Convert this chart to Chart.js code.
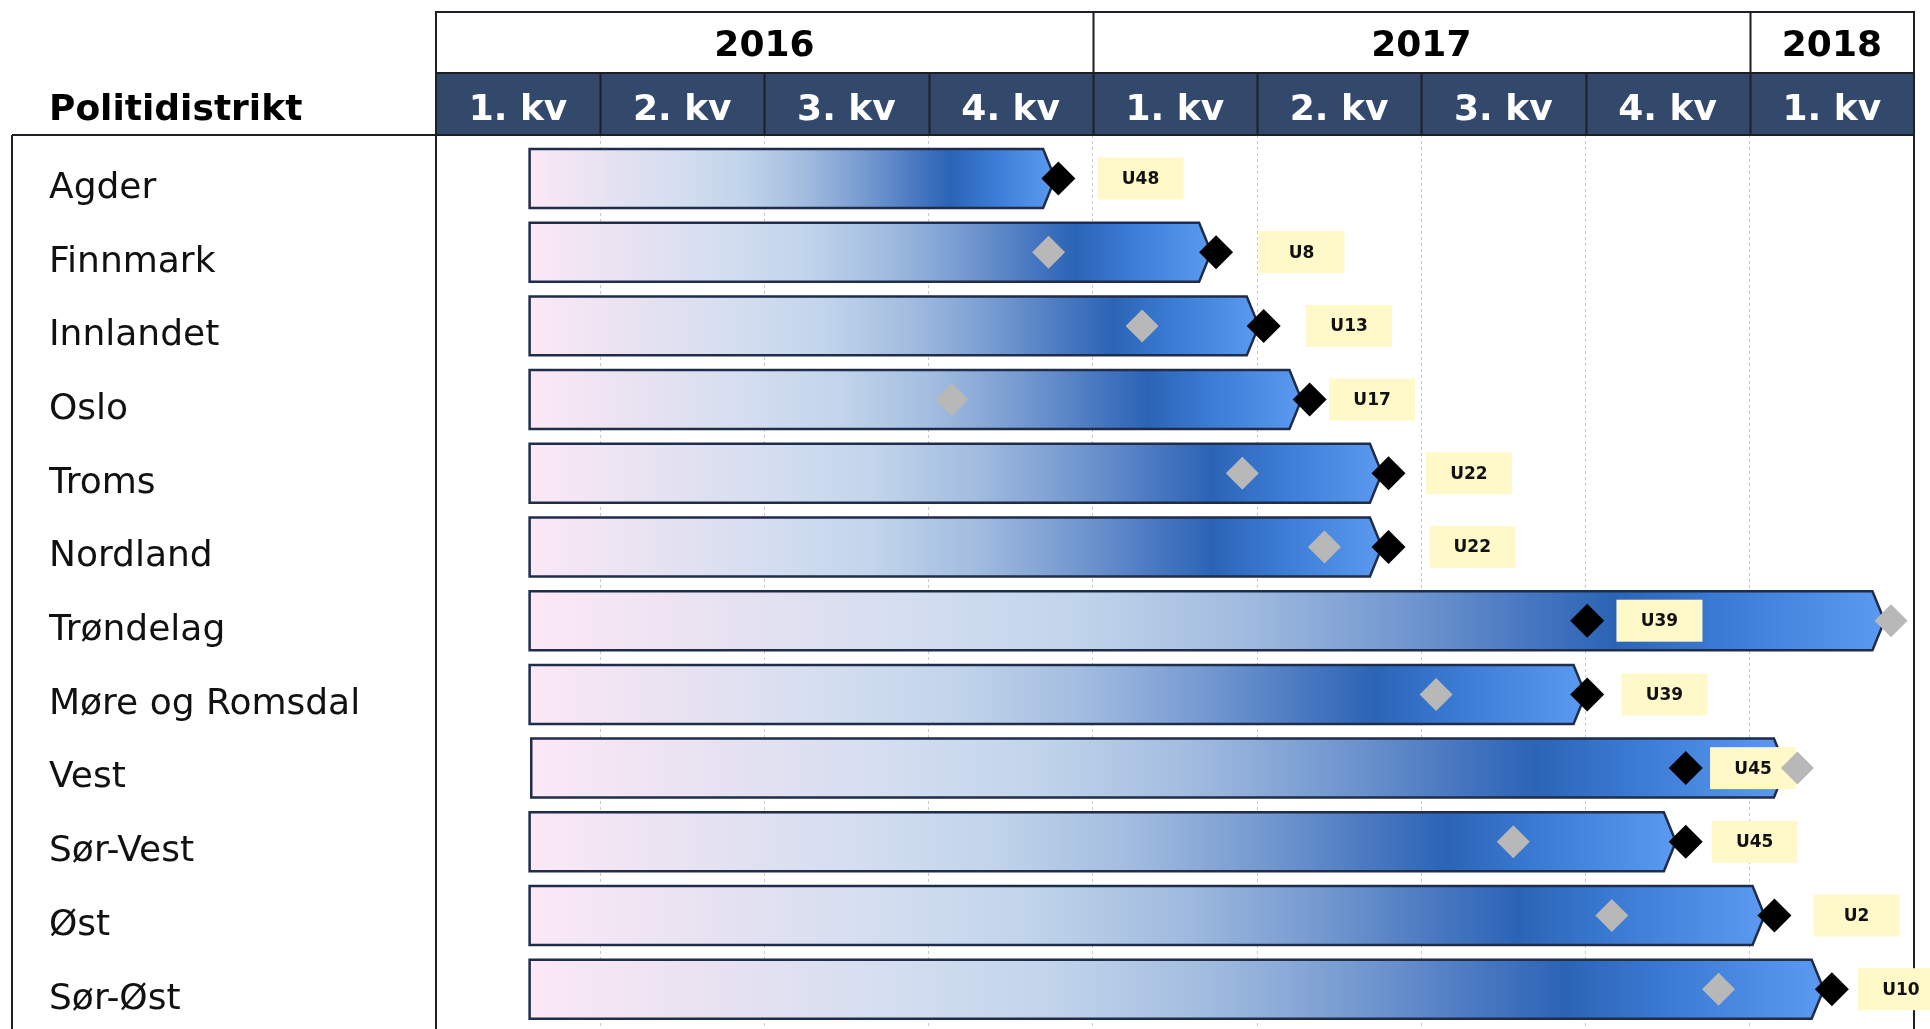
<!DOCTYPE html>
<html lang="no">
<head>
<meta charset="utf-8">
<title>Politidistrikt - fremdrift</title>
<script src="https://cdn.jsdelivr.net/npm/chart.js@4/dist/chart.umd.min.js"></script>
<style>
  html, body { margin: 0; padding: 0; background: #fff; overflow: hidden; }
  #wrap { width: 1930px; height: 1029px; position: relative; }
</style>
</head>
<body>
<div id="wrap"><canvas id="gantt"></canvas></div>
<script>
// ---- Data (x values in quarters from start of 2016) ----
const districts = ['Agder', 'Finnmark', 'Innlandet', 'Oslo', 'Troms', 'Nordland', 'Trøndelag',
  'Møre og Romsdal', 'Vest', 'Sør-Vest', 'Øst', 'Sør-Øst'];
const barStart = [0.57, 0.57, 0.57, 0.57, 0.57, 0.57, 0.57, 0.57, 0.58, 0.57, 0.57, 0.57];
const barEnd   = [3.77, 4.72, 5.01, 5.27, 5.76, 5.76, 8.82, 7.00, 8.22, 7.55, 8.09, 8.45];
const deadline = [3.79, 4.75, 5.04, 5.32, 5.80, 5.80, 7.01, 7.01, 7.61, 7.61, 8.15, 8.50];
const original = [null, 3.73, 4.30, 3.14, 4.91, 5.41, 8.86, 6.09, 8.29, 6.56, 7.16, 7.81];
const weekTags = ['U48', 'U8', 'U13', 'U17', 'U22', 'U22', 'U39', 'U39', 'U45', 'U45', 'U2', 'U10'];
const tagAt    = [4.29, 5.27, 5.56, 5.70, 6.29, 6.31, 7.45, 7.48, 8.02, 8.03, 8.65, 8.92];

const quarterLabels = ['1. kv', '2. kv', '3. kv', '4. kv', '1. kv', '2. kv', '3. kv', '4. kv', '1. kv'];
const years = ['2016', '2017', '2018'];
const yearQuarters = [4, 4, 1];

// year label centres, built from the spans
const yearCenters = [];
yearQuarters.reduce((acc, n) => { yearCenters.push(acc + n / 2); return acc + n; }, 0);
const yearEdges = [0];
yearQuarters.forEach(n => yearEdges.push(yearEdges[yearEdges.length - 1] + n));

const FONT = '"DejaVu Sans", Verdana, sans-serif';
const LINE = '#1d1f24';

// ---- Bar shape + gradient, tags, header frame ----
const ganttPlugin = {
  id: 'gantt',
  beforeDraw(chart) {
    const ctx = chart.ctx;
    const qx = chart.scales.x;
    ctx.save();
    ctx.fillStyle = '#33496b';
    ctx.fillRect(qx.left, qx.top, qx.right - qx.left, qx.bottom - qx.top);
    ctx.restore();
  },
  beforeDatasetsDraw(chart) {
    const ctx = chart.ctx;
    const qx = chart.scales.x, yx = chart.scales.x2;
    const area = chart.chartArea;
    ctx.save();
    ctx.strokeStyle = LINE;
    ctx.lineWidth = 2;
    // header outline
    ctx.strokeRect(qx.left, yx.top, qx.right - qx.left, qx.bottom - yx.top);
    ctx.beginPath();
    ctx.moveTo(qx.left, qx.top); ctx.lineTo(qx.right, qx.top);
    // quarter dividers
    for (let i = 1; i < quarterLabels.length; i++) {
      const px = Math.round(qx.getPixelForValue(i)) + 0.5;
      ctx.moveTo(px, qx.top); ctx.lineTo(px, qx.bottom);
    }
    // year dividers
    yearEdges.slice(1, -1).forEach(v => {
      const px = Math.round(qx.getPixelForValue(v)) + 0.5;
      ctx.moveTo(px, yx.top); ctx.lineTo(px, yx.bottom);
    });
    ctx.stroke();
    // plot frame and left table frame
    ctx.beginPath();
    ctx.moveTo(area.left, area.top); ctx.lineTo(area.left, chart.height);
    ctx.moveTo(area.right, area.top); ctx.lineTo(area.right, chart.height);
    ctx.moveTo(12, area.top); ctx.lineTo(area.left, area.top);
    ctx.moveTo(12, area.top); ctx.lineTo(12, chart.height);
    ctx.stroke();
    // column title
    ctx.fillStyle = '#000';
    ctx.font = 'bold 36px ' + FONT;
    ctx.textBaseline = 'middle';
    ctx.textAlign = 'left';
    ctx.fillText('Politidistrikt', 49, (qx.top + qx.bottom) / 2 + 7);
    ctx.restore();
  },
  beforeDatasetDraw(chart, args) {
    const ctx = chart.ctx;
    const ds = chart.data.datasets[args.index];
    if (ds.kind === 'bars') {
      const notch = 12;
      ctx.save();
      args.meta.data.forEach(el => {
        const x0 = el.base, x1 = el.x;
        const top = el.y - el.height / 2, bot = el.y + el.height / 2;
        const g = ctx.createLinearGradient(x0, 0, x1, 0);
        g.addColorStop(0.00, '#fce8f6');
        g.addColorStop(0.12, '#ebe3f2');
        g.addColorStop(0.28, '#d4def0');
        g.addColorStop(0.40, '#c2d5eb');
        g.addColorStop(0.52, '#a3bde0');
        g.addColorStop(0.64, '#7499d0');
        g.addColorStop(0.74, '#4676c0');
        g.addColorStop(0.80, '#2b64b6');
        g.addColorStop(0.88, '#3b7bd4');
        g.addColorStop(1.00, '#5b9af0');
        ctx.beginPath();
        ctx.moveTo(x0, top);
        ctx.lineTo(x1 - notch, top);
        ctx.lineTo(x1, el.y);
        ctx.lineTo(x1 - notch, bot);
        ctx.lineTo(x0, bot);
        ctx.closePath();
        ctx.fillStyle = g;
        ctx.fill();
        ctx.lineWidth = 2.5;
        ctx.strokeStyle = '#1f2d4a';
        ctx.stroke();
      });
      ctx.restore();
      return false;
    }
    if (ds.kind === 'tags') {
      const w = 86, h = 42;
      ctx.save();
      ctx.font = 'bold 17px ' + FONT;
      ctx.textAlign = 'center';
      ctx.textBaseline = 'middle';
      args.meta.data.forEach((pt, i) => {
        ctx.fillStyle = '#fff8c8';
        ctx.fillRect(pt.x - w / 2, pt.y - h / 2, w, h);
        ctx.fillStyle = '#111';
        ctx.fillText(weekTags[i], pt.x, pt.y + 1);
      });
      ctx.restore();
      return false;
    }
  }
};

const ctx = document.getElementById('gantt').getContext('2d');
new Chart(ctx, {
  type: 'bar',
  data: {
    datasets: [
      {
        kind: 'bars', label: 'Periode', order: 4,
        data: districts.map((d, i) => ({ x: [barStart[i], barEnd[i]], y: i })),
        backgroundColor: 'rgba(0,0,0,0)', borderWidth: 0,
        barPercentage: 0.8, categoryPercentage: 1
      },
      {
        kind: 'tags', type: 'scatter', label: 'Uke', order: 3,
        data: districts.map((d, i) => ({ x: tagAt[i], y: i })),
        pointRadius: 0
      },
      {
        type: 'scatter', label: 'Opprinnelig', order: 2,
        data: districts.map((d, i) => ({ x: original[i], y: i })).filter(p => p.x !== null),
        pointStyle: 'rectRot', pointRadius: 16.5, backgroundColor: '#b8b8b8', borderWidth: 0
      },
      {
        type: 'scatter', label: 'Frist', order: 1,
        data: districts.map((d, i) => ({ x: deadline[i], y: i })),
        pointStyle: 'rectRot', pointRadius: 17, backgroundColor: '#000', borderWidth: 0
      }
    ]
  },
  options: {
    indexAxis: 'y',
    responsive: true,
    maintainAspectRatio: false,
    animation: false,
    layout: { autoPadding: false, padding: { left: 49, top: 12, right: 16, bottom: 0 } },
    plugins: { legend: { display: false }, tooltip: { enabled: false } },
    scales: {
      x: {
        type: 'linear', position: 'top', min: 0, max: quarterLabels.length, weight: 0,
        afterBuildTicks: a => { a.ticks = quarterLabels.map((q, i) => ({ value: i })); },
        afterFit: a => { a.height = 62; },
        ticks: {
          autoSkip: false, maxRotation: 0, padding: 3, labelOffset: 82,
          color: '#ffffff', font: { family: FONT, size: 36, weight: 'bold' },
          callback: v => quarterLabels[v]
        },
        grid: { color: '#c9c9c9', lineWidth: 1, drawTicks: false },
        border: { display: false, dash: [3, 3] }
      },
      x2: {
        type: 'linear', axis: 'x', position: 'top', min: 0, max: quarterLabels.length, weight: 1,
        afterBuildTicks: a => { a.ticks = yearCenters.map(v => ({ value: v })); },
        afterFit: a => { a.height = 61; },
        ticks: {
          autoSkip: false, maxRotation: 0, padding: -3,
          color: '#000', font: { family: FONT, size: 36, weight: 'bold' },
          callback: (v, i) => years[i]
        },
        grid: { display: false },
        border: { display: false }
      },
      y: {
        type: 'linear', reverse: true, min: -0.59, max: 11.54, offset: false,
        afterBuildTicks: a => { a.ticks = districts.map((d, i) => ({ value: i })); },
        afterFit: a => { a.width = 387; a.paddingTop = 0; a.paddingBottom = 0; },
        ticks: {
          autoSkip: false, crossAlign: 'far', labelOffset: 10,
          color: '#111', font: { family: FONT, size: 36 },
          callback: v => districts[v]
        },
        grid: { display: false, offset: false },
        border: { display: false }
      }
    }
  },
  plugins: [ganttPlugin]
});
</script>
</body>
</html>
